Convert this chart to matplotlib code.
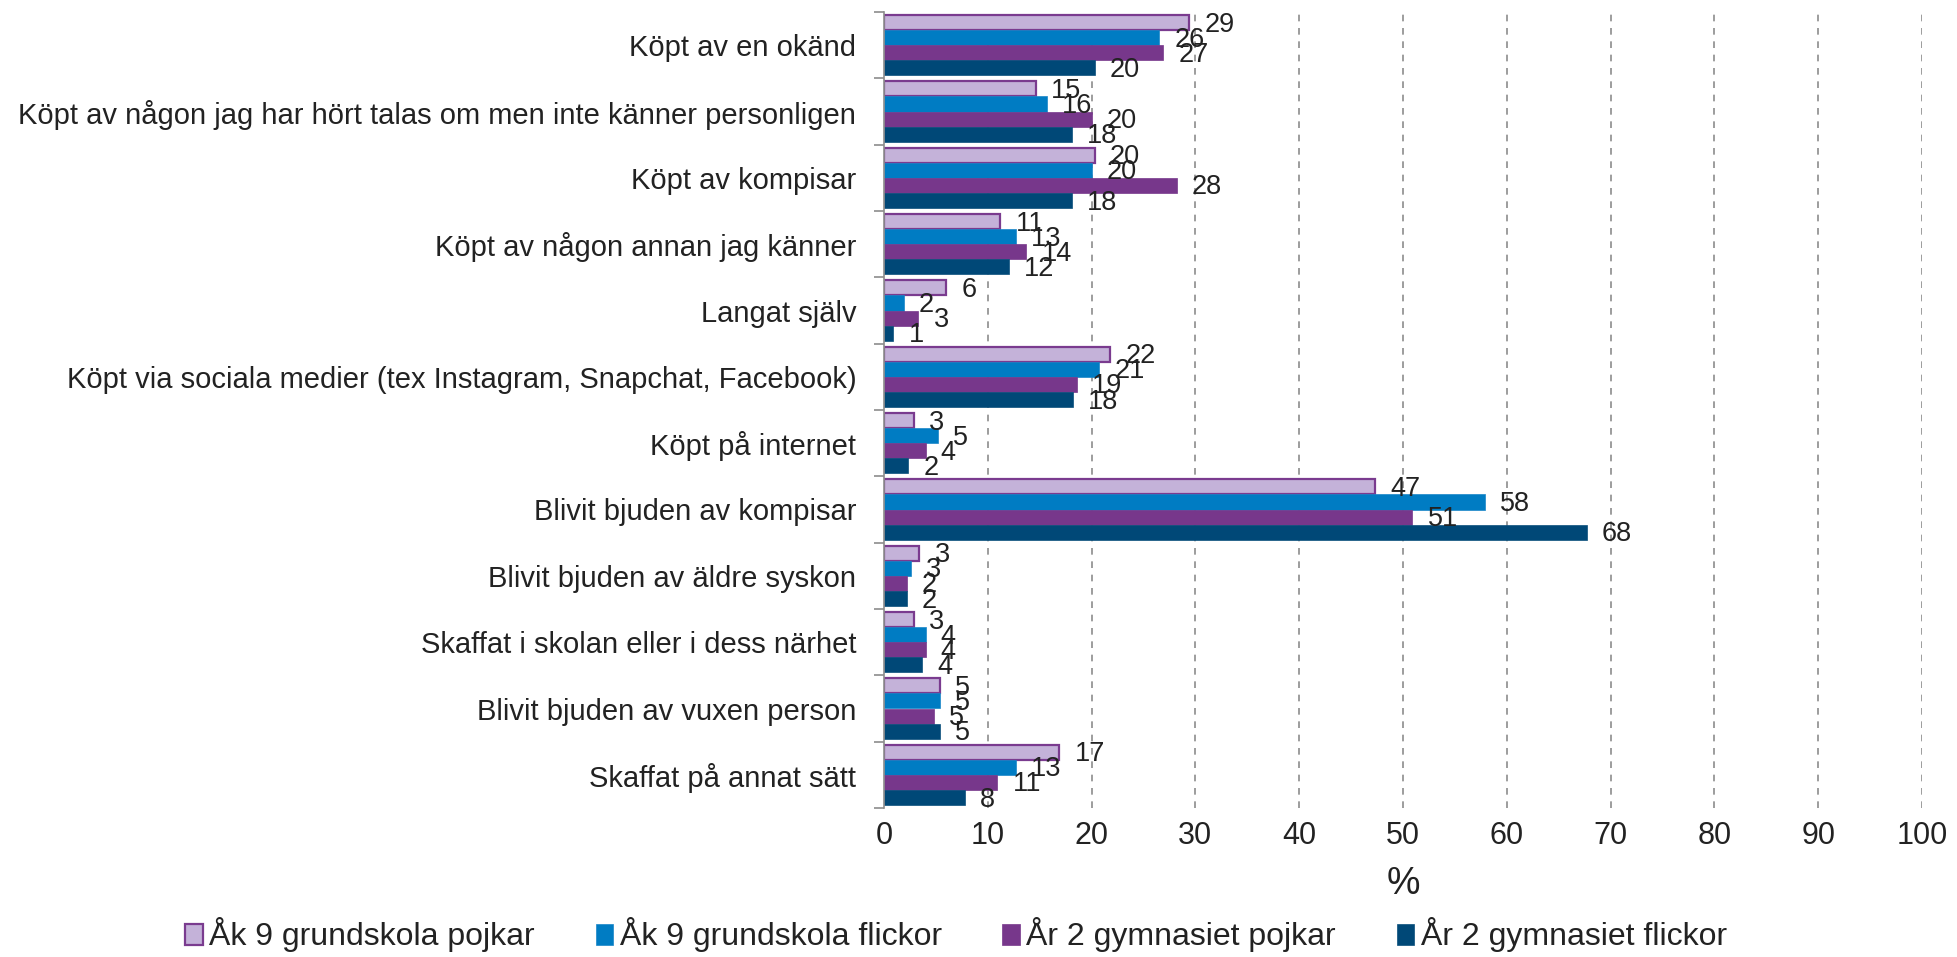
import matplotlib
matplotlib.use("Agg")
import matplotlib.pyplot as plt
import numpy as np
from matplotlib.patches import Patch

plt.rcParams['font.family'] = ['Liberation Sans', 'DejaVu Sans']

categories = [
    "Köpt av en okänd",
    "Köpt av någon jag har hört talas om men inte känner personligen",
    "Köpt av kompisar",
    "Köpt av någon annan jag känner",
    "Langat själv",
    "Köpt via sociala medier (tex Instagram, Snapchat, Facebook)",
    "Köpt på internet",
    "Blivit bjuden av kompisar",
    "Blivit bjuden av äldre syskon",
    "Skaffat i skolan eller i dess närhet",
    "Blivit bjuden av vuxen person",
    "Skaffat på annat sätt",
]
series_names = [
    "Åk 9 grundskola pojkar",
    "Åk 9 grundskola flickor",
    "År 2 gymnasiet pojkar",
    "År 2 gymnasiet flickor",
]
ak9_pojkar = [29.4, 14.6, 20.3, 11.2, 6.0, 21.8, 2.9, 47.3, 3.4, 2.9, 5.4, 16.9]
ak9_flickor = [26.5, 15.7, 20.0, 12.7, 1.9, 20.7, 5.2, 57.9, 2.6, 4.0, 5.4, 12.7]
ar2_pojkar = [26.9, 20.0, 28.2, 13.7, 3.3, 18.6, 4.0, 50.9, 2.2, 4.0, 4.8, 10.9]
ar2_flickor = [20.3, 18.1, 18.1, 12.0, 0.9, 18.2, 2.3, 67.7, 2.2, 3.7, 5.4, 7.8]
xticks = [0, 10, 20, 30, 40, 50, 60, 70, 80, 90, 100]
xlabel = "%"

series = [ak9_pojkar, ak9_flickor, ar2_pojkar, ar2_flickor]
face_colors = ["#C4B2D9", "#007CC3", "#77378B", "#004877"]
edge_colors = ["#7A3B8F", "#1A86C8", "#77378B", "#0A4F7C"]
edge_widths = [1.6, 0.5, 0.5, 0.5]
text_color = "#222222"

fig = plt.figure(figsize=(19.57, 9.57), dpi=100)
ax = fig.add_axes([884/1957, 1-808/957, (1922-884)/1957, (808-12)/957])

n = len(categories)
y = np.arange(n)
bh = 0.228
offsets = (np.arange(4) - 1.5) * bh
for i, vals in enumerate(series):
    pos = y + offsets[i]
    ax.barh(pos, vals, height=bh, color=face_colors[i], edgecolor=edge_colors[i],
            linewidth=edge_widths[i], zorder=3)
    for p, v in zip(pos, vals):
        ax.annotate(f"{v:.0f}", xy=(v, p), xytext=(11, -1.5), textcoords="offset points",
                    ha="left", va="center", fontsize=19.5, color=text_color, zorder=4)

ax.set_ylim(n - 0.5, -0.5)
ax.set_xlim(0, 100)
ax.set_yticks(y)
ax.set_yticklabels(categories, fontsize=21, color=text_color)
ax.tick_params(axis='y', which='major', length=0, pad=20)
ax.set_yticks(np.arange(n + 1) - 0.5, minor=True)
ax.tick_params(axis='y', which='minor', length=7, width=1.2, color="#8C8C8C", direction='out')
ax.set_xticks(xticks)
ax.set_xticklabels([str(t) for t in xticks], fontsize=22, color=text_color)
ax.tick_params(axis='x', length=0, pad=9)

for s in ['top', 'right', 'bottom']:
    ax.spines[s].set_visible(False)
ax.spines['left'].set_color("#8C8C8C")
ax.spines['left'].set_linewidth(1.2)
ax.spines['left'].set_zorder(5)

for t in xticks[1:]:
    ax.axvline(t, color="#8C8C8C", linestyle=(0, (4, 4)), linewidth=1.2, zorder=1)

fig.text((884 + 1922) / 2 / 1957, 1 - 884/957, xlabel, fontsize=27,
         ha="center", va="center", color=text_color)

handles = [Patch(facecolor=face_colors[i], edgecolor=edge_colors[i],
                 linewidth=edge_widths[i] if i == 0 else 0.5) for i in range(4)]
fig.legend(handles, series_names, loc="center", bbox_to_anchor=(0.4885, 1 - 935/957),
           ncol=4, frameon=False, fontsize=23, handlelength=0.55, handleheight=0.65,
           handletextpad=0.2, columnspacing=1.9, labelcolor=text_color)

fig.savefig("out.png", dpi=100)
